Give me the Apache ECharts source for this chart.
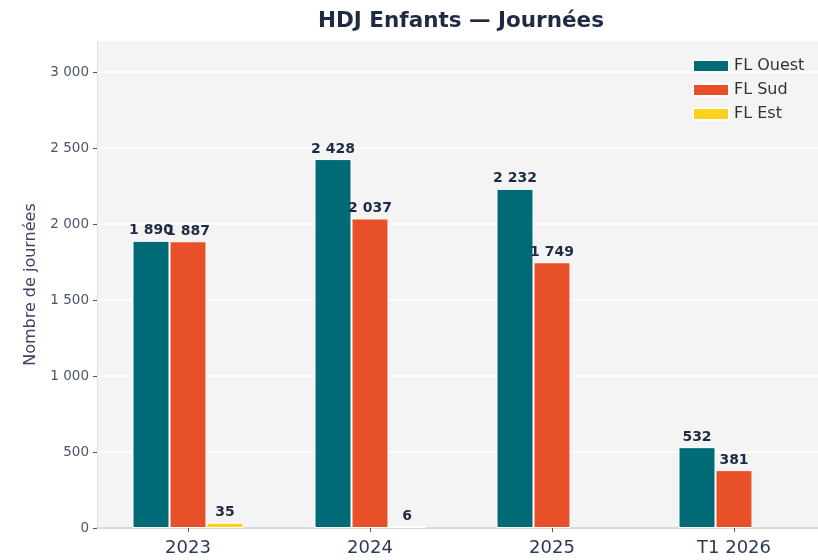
<!DOCTYPE html>
<html>
<head>
<meta charset="utf-8">
<script src="https://cdn.jsdelivr.net/npm/echarts@6/dist/echarts.min.js"></script>
<style>
html, body { margin: 0; padding: 0; background: #fff; }
#main { width: 818px; height: 560px; }
</style>
</head>
<body>
<div id="main"></div>
<script>
var chartDom = document.getElementById('main');
var myChart = echarts.init(chartDom);
var option;

// data
var categories = ['2023', '2024', '2025', 'T1 2026'];
var ouest = [1890, 2428, 2232, 532];
var sud = [1887, 2037, 1749, 381];
var est = [35, 6, null, null];
var yTicks = [0, 500, 1000, 1500, 2000, 2500, 3000];

var font = 'DejaVu Sans';
var navy = '#1f2a44';

function fmt(v) {
    return String(Math.round(v)).replace(/\B(?=(\d{3})+(?!\d))/g, ' ');
}

function barSeries(name, data, color) {
    return {
        name: name,
        type: 'bar',
        data: data,
        barWidth: 37,
        barGap: '0%',
        barMinHeight: name === 'FL Est' ? 2 : 0,
        itemStyle: {color: color, borderColor: '#ffffff', borderWidth: 1},
        label: {
            show: true,
            position: 'top',
            distance: 3,
            fontFamily: font,
            fontSize: 14,
            fontWeight: 'bold',
            color: navy,
            formatter: function (p) { return fmt(p.value); }
        }
    };
}

option = {
    animation: false,
    backgroundColor: '#ffffff',
    textStyle: {fontFamily: font},
    title: {
        text: 'HDJ Enfants — Journées',
        left: 456,
        textAlign: 'center',
        top: 5,
        textStyle: {fontFamily: font, fontSize: 21.5, fontWeight: 'bold', color: navy}
    },
    legend: {
        left: 687,
        top: 53,
        orient: 'vertical',
        itemWidth: 36,
        itemHeight: 12,
        itemGap: 8,
        icon: 'rect',
        textStyle: {fontFamily: font, fontSize: 16, lineHeight: 16, color: '#333333'},
        data: ['FL Ouest', 'FL Sud', 'FL Est']
    },
    grid: {
        left: 97,
        width: 728,
        top: 41,
        bottom: 32,
        outerBoundsMode: 'none',
        show: true,
        backgroundColor: '#f4f4f4',
        borderWidth: 0
    },
    xAxis: {
        type: 'category',
        data: categories,
        axisLine: {show: true, lineStyle: {color: '#cfcfcf', width: 1.5}},
        axisTick: {show: true, alignWithLabel: true, length: 4, lineStyle: {color: '#555555'}},
        axisLabel: {fontFamily: font, fontSize: 18, color: '#2e3a55', margin: 11}
    },
    yAxis: {
        type: 'value',
        min: 0,
        max: 3205,
        interval: 500,
        name: 'Nombre de journées',
        nameLocation: 'middle',
        nameRotate: 90,
        nameGap: 58,
        nameTextStyle: {fontFamily: font, fontSize: 16, color: '#3a4560'},
        axisLine: {show: true, lineStyle: {color: '#e0e0e0'}},
        axisTick: {show: true, length: 4, customValues: yTicks, lineStyle: {color: '#555555'}},
        axisLabel: {
            fontFamily: font, fontSize: 13.5, color: '#4a5470', margin: 8,
            customValues: yTicks,
            formatter: function (v) { return fmt(v); }
        },
        splitLine: {show: true, lineStyle: {color: '#ffffff', width: 1.5}}
    },
    series: [
        barSeries('FL Ouest', ouest, '#006b77'),
        barSeries('FL Sud', sud, '#e8502a'),
        barSeries('FL Est', est, '#fdd21e')
    ]
};

option && myChart.setOption(option);
</script>
</body>
</html>
